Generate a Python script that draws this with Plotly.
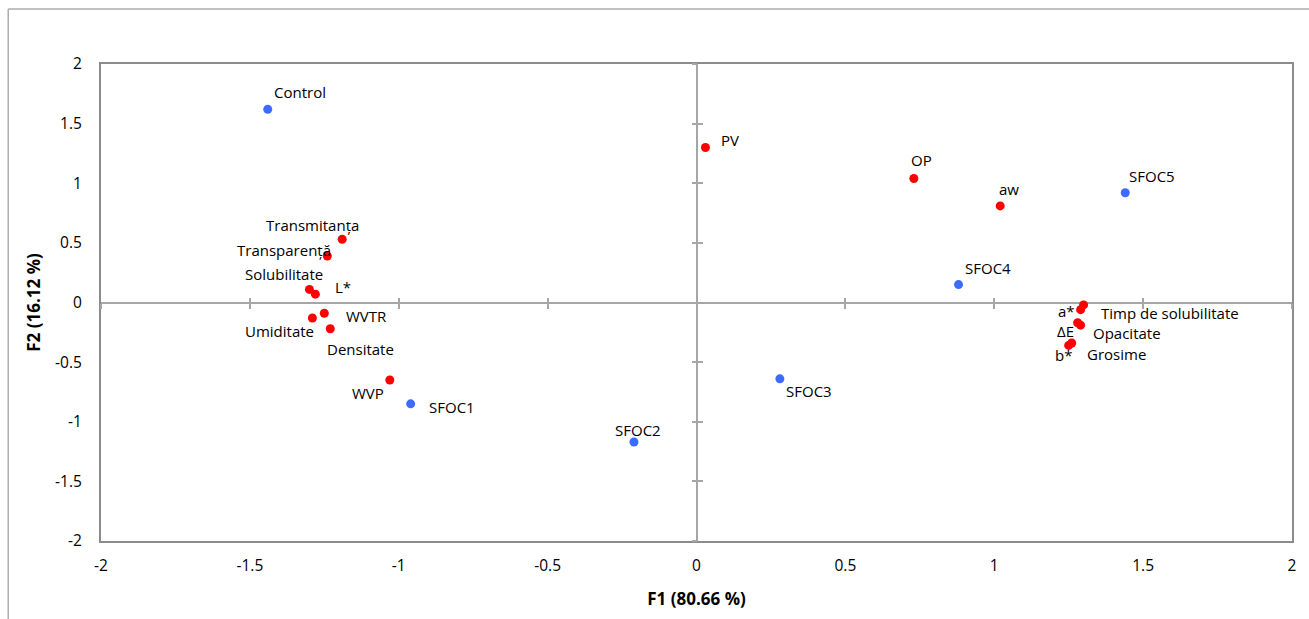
import plotly.graph_objects as go

# ---- data ----
obs_names = ["Control", "SFOC1", "SFOC2", "SFOC3", "SFOC4", "SFOC5"]
obs_f1 = [-1.44, -0.96, -0.21, 0.28, 0.88, 1.44]
obs_f2 = [1.62, -0.85, -1.17, -0.64, 0.15, 0.92]

var_names = ["PV", "OP", "aw", "Transmitanța", "Transparență", "Solubilitate", "L*",
             "WVTR", "Umiditate", "Densitate", "WVP", "a*", "Timp de solubilitate",
             "ΔE", "Opacitate", "b*", "Grosime"]
var_f1 = [0.03, 0.73, 1.02, -1.19, -1.24, -1.30, -1.28,
          -1.25, -1.29, -1.23, -1.03, 1.29, 1.30,
          1.28, 1.29, 1.25, 1.26]
var_f2 = [1.30, 1.04, 0.81, 0.53, 0.39, 0.11, 0.07,
          -0.09, -0.13, -0.22, -0.65, -0.06, -0.02,
          -0.17, -0.19, -0.36, -0.34]

tick_vals = [-2, -1.5, -1, -0.5, 0, 0.5, 1, 1.5, 2]
tick_labels = ["-2", "-1.5", "-1", "-0.5", "0", "0.5", "1", "1.5", "2"]

x_title = "F1 (80.66 %)"
y_title = "F2 (16.12 %)"

# label offsets in pixels (dx right, dy down) -- style only
label_offsets = {
    "Control": (32, -17), "SFOC1": (41, 3), "SFOC2": (4, -12), "SFOC3": (29, 12),
    "SFOC4": (29, -17), "SFOC5": (27, -17),
    "PV": (25, -7), "OP": (8, -18), "aw": (9, -17), "Transmitanța": (-30, -14),
    "Transparență": (-43, -6), "Solubilitate": (-25, -15), "L*": (28, -7),
    "WVTR": (42, 3), "Umiditate": (-33, 13), "Densitate": (30, 20), "WVP": (-22, 13),
    "a*": (-14, 1), "Timp de solubilitate": (86, 8), "ΔE": (-12, 8),
    "Opacitate": (46, 8), "b*": (-5, 10), "Grosime": (45, 11),
}

FONT = "Open Sans"
BLUE = "#3D6BFF"
RED = "#FF0000"

fig = go.Figure()
fig.add_trace(go.Scatter(x=var_f1, y=var_f2, mode="markers",
                         marker=dict(color=RED, size=9), hoverinfo="text", text=var_names,
                         showlegend=False))
fig.add_trace(go.Scatter(x=obs_f1, y=obs_f2, mode="markers",
                         marker=dict(color=BLUE, size=9), hoverinfo="text", text=obs_names,
                         showlegend=False))
# invisible traces to instantiate overlay axes used for crossing tick marks on the zero lines
fig.add_trace(go.Scatter(x=[None], y=[None], xaxis="x2", yaxis="y2", showlegend=False, hoverinfo="skip"))
fig.add_trace(go.Scatter(x=[None], y=[None], xaxis="x3", yaxis="y3", showlegend=False, hoverinfo="skip"))

annotations = []
for names, xs, ys in ((obs_names, obs_f1, obs_f2), (var_names, var_f1, var_f2)):
    for n, xv, yv in zip(names, xs, ys):
        dx, dy = label_offsets[n]
        annotations.append(dict(x=xv, y=yv, xref="x", yref="y", text=n, showarrow=False,
                                xanchor="center", yanchor="middle", xshift=dx, yshift=-dy,
                                borderpad=0,
                                font=dict(family=FONT, size=15, color="#000000")))

FRAME = "#8C8C8C"
ZERO = "#A6A6A6"
common_overlay = dict(range=[-2, 2], tickvals=tick_vals, showgrid=False, zeroline=False,
                      showline=False, showticklabels=False, ticklen=5, tickwidth=1.5,
                      tickcolor=ZERO)

fig.update_layout(
    width=1309, height=619,
    margin=dict(l=101, r=14, t=64, b=78),
    paper_bgcolor="white", plot_bgcolor="white",
    font=dict(family=FONT, size=15.5, color="#000000"),
    xaxis=dict(range=[-2, 2], tickvals=tick_vals, ticktext=tick_labels, showgrid=False,
               zeroline=True, zerolinecolor=ZERO, zerolinewidth=2,
               showline=True, linecolor=FRAME, linewidth=2, mirror=True,
               ticks="", ticklabelstandoff=9,
               title=dict(text="<b>" + x_title + "</b>", standoff=19,
                          font=dict(family=FONT, size=17))),
    yaxis=dict(range=[-2, 2], tickvals=tick_vals, ticktext=tick_labels, showgrid=False,
               zeroline=True, zerolinecolor=ZERO, zerolinewidth=2,
               showline=True, linecolor=FRAME, linewidth=2, mirror=True,
               ticks="", ticklabelstandoff=14,
               title=dict(text="<b>" + y_title + "</b>", standoff=10,
                          font=dict(family=FONT, size=17))),
    xaxis2=dict(overlaying="x", anchor="free", position=0.5, ticks="outside", **common_overlay),
    yaxis2=dict(overlaying="y", anchor="free", position=0.5, ticks="outside", **common_overlay),
    xaxis3=dict(overlaying="x", anchor="free", position=0.5, ticks="inside", **common_overlay),
    yaxis3=dict(overlaying="y", anchor="free", position=0.5, ticks="inside", **common_overlay),
    annotations=annotations,
    shapes=[
        dict(type="line", xref="paper", yref="paper", x0=-0.0779, x1=-0.0779, y0=-0.2, y1=1.1153,
             line=dict(color="#ADADAD", width=1.5)),
        dict(type="line", xref="paper", yref="paper", x0=-0.0779, x1=1.05, y0=1.1153, y1=1.1153,
             line=dict(color="#ADADAD", width=1.5)),
    ],
)

fig.write_html("out.html")
